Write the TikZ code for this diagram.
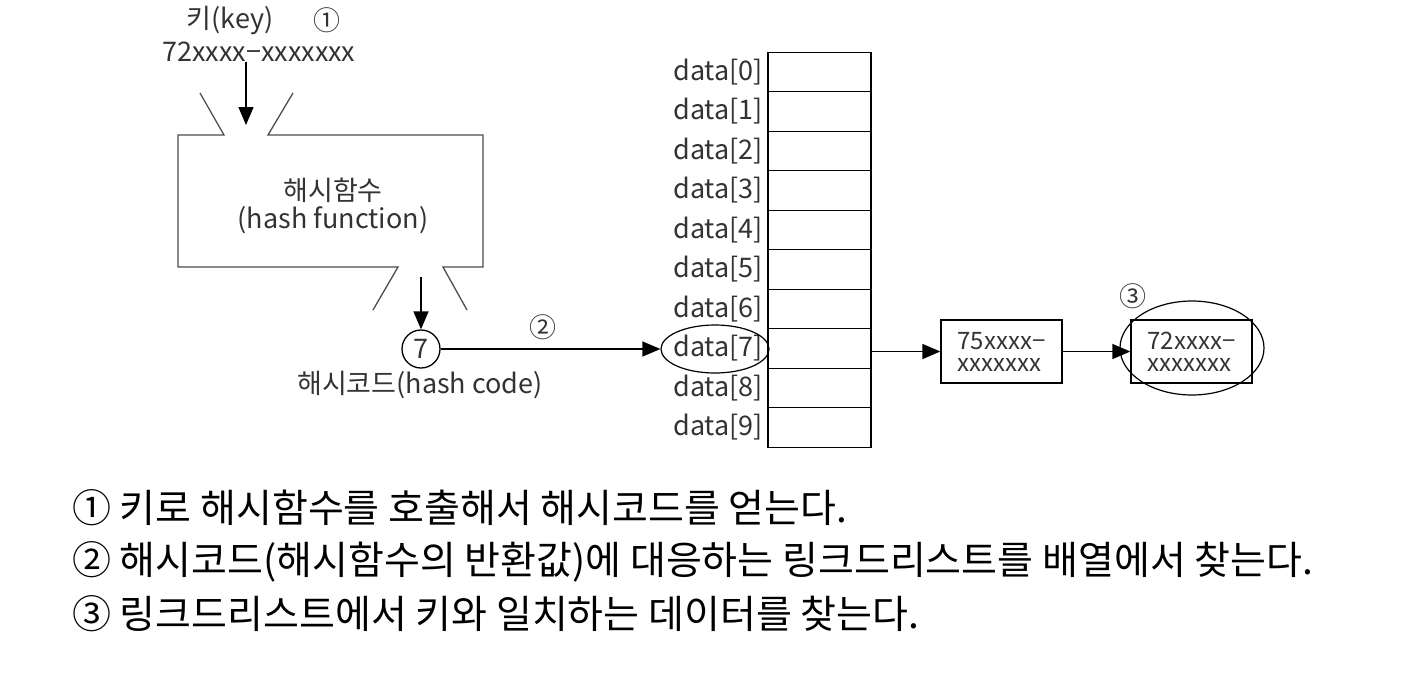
\documentclass[tikz,border=0pt]{standalone}
\usepackage{fontspec}
\setmainfont{Noto Sans CJK KR}
\usetikzlibrary{arrows.meta,shapes.geometric}
\begin{document}
\begin{tikzpicture}[x=1pt,y=-1pt,
  lbl/.style={font=\fontsize{27}{28}\selectfont, text=black!80, inner sep=0},
  cell/.style={draw, minimum width=103pt, minimum height=39.5pt, inner sep=0, line width=1.3pt},
  arr/.style={line width=1.5pt, -{Triangle[length=18pt,width=15pt]}},
  funnel/.style={line width=1.3pt, draw=black!70},
  listbox/.style={draw, line width=1.3pt, minimum width=121pt, minimum height=63pt, inner sep=0,
    align=left, font=\fontsize{24}{22}\selectfont, text=black!80},
  ring/.style={draw, ellipse, line width=1.2pt, inner sep=0},
  note/.style={anchor=west, font=\fontsize{39}{42}\selectfont, inner sep=0}]
\useasboundingbox (0,0) rectangle (1428,678);
% key
\node[lbl] (key) at (230,20) {키(key)};
\node[lbl] (n1) at (327,20) {①};
\node[lbl] (kv) at (259,52) {72xxxx−xxxxxxx};
\coordinate (kt) at (246,125);
\draw[arr] (kv.south -| kt) -- (kt);
% hash function box
\draw[funnel] (200,93) -- (224,135) -- (178,135) -- (178,267) -- (398,267) -- (373,310);
\draw[funnel] (293,93) -- (268,135) -- (483,135) -- (483,267) -- (443,267) -- (467,310);
\node[lbl, align=center] (fn) at (333,206) {해시함수\\(hash function)};
% hash code
\node[circle, draw, line width=1.3pt, minimum size=38pt, inner sep=0, font=\fontsize{27}{28}\selectfont, text=black!80] (h) at (421,349) {7};
\coordinate (fo) at (421,277);
\draw[arr] (fo) -- (h.north);
\node[lbl] (hc) at (420,385) {해시코드(hash code)};
\node[lbl] (n2) at (543,327) {②};
% array
\foreach \i in {0,...,9} {
  \node[cell] (c\i) at (819.5,{72+39.5*\i}) {};
  \node[lbl, anchor=east] (d\i) at (763,{72+39.5*\i}) {data[\i]};
}
\node[ring, minimum width=108pt, minimum height=48pt] (e7) at (715,349) {};
\draw[arr] (h.east) -- (e7.west);
% linked list
\node[listbox] (b1) at (1001.5,351.5) {75xxxx−\\xxxxxxx};
\node[listbox] (b2) at (1191.5,351.5) {72xxxx−\\xxxxxxx};
\node[ring, minimum width=144pt, minimum height=94pt] (e2) at (1192,348) {};
\node[lbl] (n3) at (1133,296) {③};
\draw[arr] (c7.east |- b1.west) -- (b1.west);
\draw[arr] (b1.east) -- (b2.west);
% notes
\node[note] (t1) at (72,508) {① 키로 해시함수를 호출해서 해시코드를 얻는다.};
\node[note] (t2) at (72,562) {② 해시코드(해시함수의 반환값)에 대응하는 링크드리스트를 배열에서 찾는다.};
\node[note] (t3) at (72,614) {③ 링크드리스트에서 키와 일치하는 데이터를 찾는다.};
\end{tikzpicture}
\end{document}
